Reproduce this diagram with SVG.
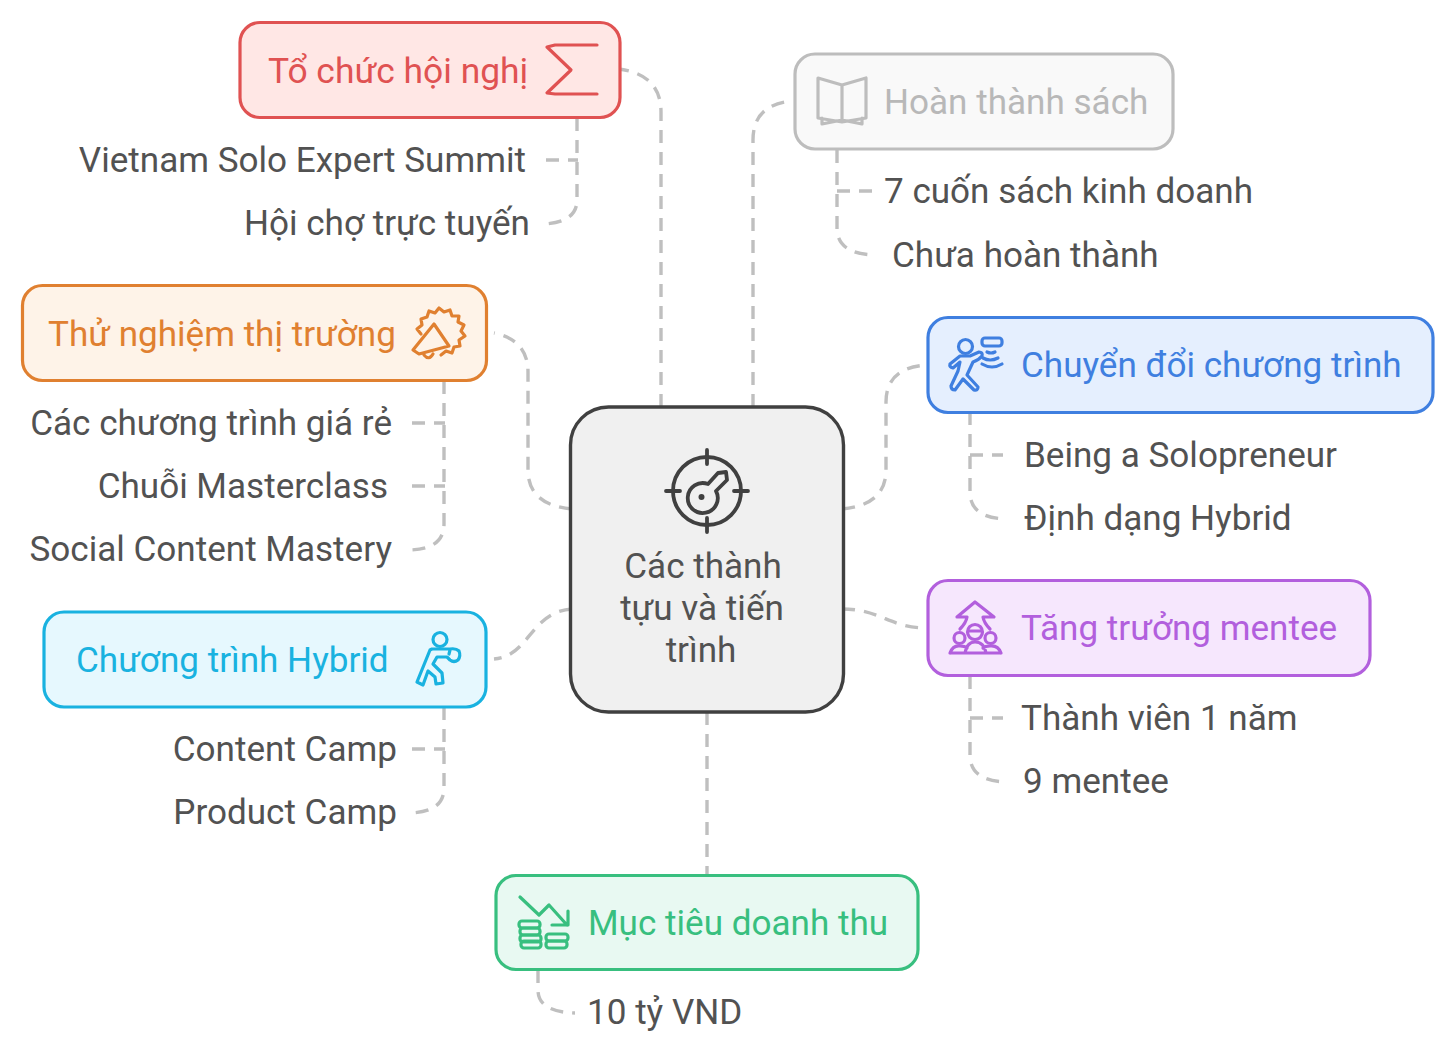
<svg xmlns="http://www.w3.org/2000/svg" width="1456" height="1054" viewBox="0 0 1456 1054">
<style>
text{font-family:Roboto,"Noto Sans",sans-serif;font-size:35.1px;fill:#525252}
.box{stroke-width:3.2}
.ic{fill:none;stroke-width:3.2;stroke-linecap:round;stroke-linejoin:round}
#connectors path{fill:none;stroke:#bfbfbf;stroke-width:3.4;stroke-dasharray:13 9}
</style>
<rect width="1456" height="1054" fill="#fff"/>
<g id="connectors">
<path d="M661 407V112Q661 74 618 69"/>
<path d="M753 407V140Q753 104 793 101"/>
<path d="M572 509Q528 505 528 470V372Q528 340 494 333"/>
<path d="M842 509Q886 505 886 470V402Q886 368 926 365"/>
<path d="M572 609C530 612 530 656 494 659"/>
<path d="M842 609C880 609 890 628 926 628"/>
<path d="M707 712V875"/>
<path d="M577 118V200Q577 222 544 224"/>
<path d="M546 160H578"/>
<path d="M837 150V228Q837 254 875 255"/>
<path d="M837 191H872"/>
<path d="M444 381V524Q444 549 410 550"/>
<path d="M412 423H445"/>
<path d="M412 486H445"/>
<path d="M970 412V492Q970 518 1006 519"/>
<path d="M970 455H1003"/>
<path d="M444 707V788Q444 812 410 813"/>
<path d="M412 749H445"/>
<path d="M970 676V755Q970 781 1006 782"/>
<path d="M970 718H1003"/>
<path d="M538 970V990Q538 1012 575 1013"/>
</g>
<g id="center">
<rect x="570.500" y="407" width="273" height="305" rx="38" fill="#f0f0f0" stroke="#404040" stroke-width="3.400"/>
<g class="ic" stroke="#404040" style="stroke-width:3.800">
<circle cx="707" cy="491" r="34"/>
<path d="M707 450V464M707 518V532M666 491H680M734 491H748"/>
<path d="M708 484L718 473L726 472L727 480L716 491A15 15 0 1 1 708 484Z"/>
</g>
<circle cx="701.500" cy="497" r="3" fill="#404040"/>
<text x="703" y="578" text-anchor="middle">Các thành</text>
<text x="702" y="620" text-anchor="middle">tựu và tiến</text>
<text x="701" y="662" text-anchor="middle">trình</text>
</g>
<g id="n-hoinghi">
<rect class="box" x="240" y="22.500" width="380" height="95" rx="20" fill="#ffe7e5" stroke="#e05252"/>
<text x="268" y="83" style="fill:#e05252;font-size:35.4px">Tổ chức hội nghị</text>
<path class="ic" stroke="#e05252" d="M597 45H555L547 47L571 70L547 93L555 94H597"/>
</g>
<g id="n-sach">
<rect class="box" x="795" y="54" width="378" height="95" rx="20" fill="#f9f9f9" stroke="#bdbdbd"/>
<text x="884" y="114" style="fill:#b8b8b8">Hoàn thành sách</text>
<path class="ic" stroke="#bdbdbd" d="M818 78L842 85L866 78V118L842 122L818 118ZM842 85V121M822 118V124L842 120L862 124V118"/>
</g>
<g id="n-thunghiem">
<rect class="box" x="22.500" y="285.500" width="464" height="95" rx="20" fill="#fef3e8" stroke="#e08030"/>
<text x="48" y="346" style="fill:#e08030">Thử nghiệm thị trường</text>
<path class="ic" stroke="#e08030" d="M421 334L417 329L422 325L421 319L427 317L429 311L435 313L439 308L444 312L450 310L452 316L459 316L458 322L464 325L461 331L465 336L459 340L460 346L454 347L452 353L446 351L441 355M434 324L449 346L419 354L413 350ZM424 355Q429 361 433 354"/>
</g>
<g id="n-chuyendoi">
<rect class="box" x="928" y="317.500" width="505" height="95" rx="20" fill="#e5effe" stroke="#3f7fe0"/>
<text x="1021" y="377" style="fill:#3f7fe0">Chuyển đổi chương trình</text>
<g class="ic" stroke="#3f7fe0">
<circle cx="965.500" cy="346.500" r="7"/>
<path d="M960 356H970L979 352Q983 352 982 356Q979 360 973 362L967 375L978 387Q978 391 974 390L963 379L955 390Q951 390 951 386L958 371L960 362L953 368Q949 367 950 364Z"/>
<rect x="982" y="338" width="20" height="8" rx="3"/>
<path d="M987 352Q991 354 995 352M983 358Q990 362 998 358M982 364Q992 370 1002 364"/>
</g>
</g>
<g id="n-hybrid">
<rect class="box" x="44" y="612" width="442" height="95" rx="20" fill="#e6f8fe" stroke="#19b2e0"/>
<text x="76" y="672" style="fill:#19b2e0">Chương trình Hybrid</text>
<g class="ic" stroke="#19b2e0">
<circle cx="440" cy="639.500" r="7"/>
<path d="M432 649H450Q456 648 459 651Q461 656 458 660Q454 663 450 660L447 657H437L433 664L442 673L443 683L436 684L435 677L428 671L423 685L417 682L430 650ZM450 650L449 654"/>
</g>
</g>
<g id="n-mentee">
<rect class="box" x="928" y="580.500" width="442" height="95" rx="20" fill="#f6e7fd" stroke="#b25fdd"/>
<text x="1021" y="640" style="fill:#b25fdd">Tăng trưởng mentee</text>
<g class="ic" stroke="#b25fdd">
<path d="M960 629Q966 623 967 617H957L975 602L994 617H983Q984 623 990 629"/>
<circle cx="975" cy="632" r="7.500"/>
<path d="M969 631H981"/>
<circle cx="959.500" cy="638" r="5.500"/><circle cx="990.500" cy="638" r="5.500"/>
<path d="M950 653Q953 645 960 646Q965 646 967 648M1001 653Q998 645 990 646Q985 646 983 648M965 653Q967 642 975 642Q984 642 986 653M950 653H1001"/>
</g>
</g>
<g id="n-doanhthu">
<rect class="box" x="496" y="875.500" width="422" height="94" rx="20" fill="#e8f9f2" stroke="#38bf7f"/>
<text x="588" y="935" style="fill:#38bf7f">Mục tiêu doanh thu</text>
<g class="ic" stroke="#38bf7f">
<path d="M520 897L539 915L549 905L567 925M552 925H568V911"/>
<rect x="519" y="921" width="21" height="7" rx="3"/>
<rect x="520" y="928" width="20" height="7" rx="3"/>
<rect x="520" y="935" width="21" height="7" rx="3"/>
<rect x="521" y="941" width="20" height="7" rx="3"/>
<rect x="546" y="934" width="22" height="7" rx="3"/>
<rect x="546" y="941" width="21" height="7" rx="3"/>
</g>
</g>
<g id="labels">
<text x="526" y="172" text-anchor="end">Vietnam Solo Expert Summit</text>
<text x="530" y="235" text-anchor="end">Hội chợ trực tuyến</text>
<text x="884" y="203">7 cuốn sách kinh doanh</text>
<text x="892" y="267">Chưa hoàn thành</text>
<text x="392" y="435" text-anchor="end">Các chương trình giá rẻ</text>
<text x="388" y="498" text-anchor="end">Chuỗi Masterclass</text>
<text x="392" y="561" text-anchor="end">Social Content Mastery</text>
<text x="1024" y="467">Being a Solopreneur</text>
<text x="1024" y="530">Định dạng Hybrid</text>
<text x="397" y="761" text-anchor="end">Content Camp</text>
<text x="397" y="824" text-anchor="end">Product Camp</text>
<text x="1021" y="730">Thành viên 1 năm</text>
<text x="1023" y="793">9 mentee</text>
<text x="587" y="1024">10 tỷ VND</text>
</g>
</svg>
